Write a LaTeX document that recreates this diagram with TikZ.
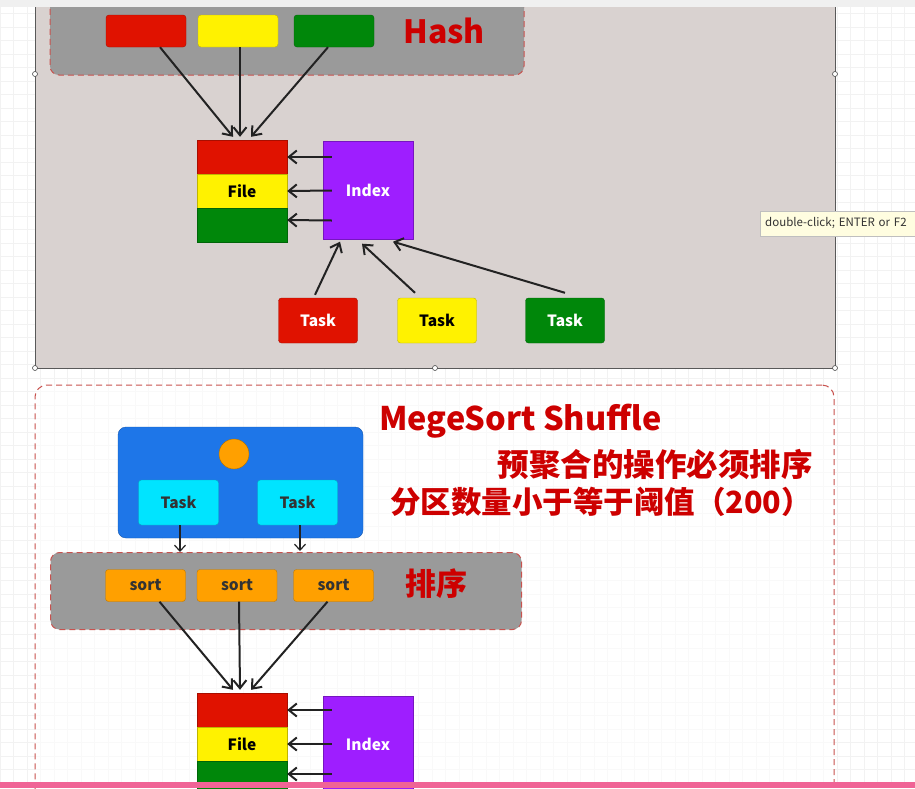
\documentclass[tikz,border=0pt]{standalone}
\usepackage{fontspec}
\setmainfont{Noto Sans CJK SC}
\usepackage{xcolor}
\usepackage{tikz}
\usetikzlibrary{arrows.meta,positioning}
\definecolor{cred}{RGB}{224,18,0}
\definecolor{cyel}{RGB}{255,242,0}
\definecolor{cgrn}{RGB}{0,135,10}
\definecolor{cpur}{RGB}{158,30,255}
\definecolor{cblue}{RGB}{30,118,232}
\definecolor{ccyan}{RGB}{0,228,255}
\definecolor{corg}{RGB}{255,160,0}
\definecolor{cpanel}{RGB}{217,210,208}
\definecolor{cgroup}{RGB}{154,154,154}
\definecolor{cdash}{RGB}{200,82,78}
\definecolor{ctitle}{RGB}{205,0,0}
\definecolor{cpink}{RGB}{240,100,150}
\definecolor{cline}{RGB}{34,34,34}
\tikzset{
  cell/.style={draw=#1!75!black, fill=#1, minimum width=90pt, minimum height=34pt, inner sep=0pt},
  chip/.style={draw=#1!75!black, fill=#1, rounded corners=3pt, minimum width=80pt, minimum height=32pt, inner sep=0pt},
  lbl/.style={font=\bfseries\fontsize{15.5}{15.5}\selectfont},
  group/.style={draw=cdash, dashed, dash pattern=on 6pt off 4pt, line width=1pt, fill=cgroup, rounded corners=9pt, inner sep=0pt},
  handle/.style={circle, draw=black!70, fill=white, minimum size=5pt, inner sep=0pt, line width=0.6pt},
  title/.style={text=ctitle, inner sep=0pt},
  flow/.style={every edge/.append style={-{Straight Barb[length=8pt,width=13pt]}, color=cline, line width=2pt}},
  drop/.style={every edge/.append style={-{Straight Barb[length=6pt,width=11pt]}, color=cline, line width=1.2pt}},
}
\begin{document}
\begin{tikzpicture}[x=1pt,y=-1pt]
	\useasboundingbox (0,0) rectangle (915,788);
	\clip (0,0) rectangle (915,788);
	\fill[white] (0,0) rectangle (915,788);
	\foreach \gx in {0,13.5,...,915} \draw[black!5] (\gx,0) -- (\gx,788);
	\foreach \gy in {0,13.5,...,788} \draw[black!5] (0,\gy) -- (915,\gy);
	%
	%  PANELS
	%
	\node[draw=black!65, fill=cpanel, minimum width=800pt, minimum height=373pt, line width=0.8pt] (upper) at (435,181.5) {};
	\node[group, minimum width=474pt, minimum height=85pt] (hashgrp) at (287,32.5) {};
	\node[draw=cdash, dashed, dash pattern=on 6pt off 4pt, line width=1pt, fill=white, fill opacity=0.6, rounded corners=12pt, minimum width=799pt, minimum height=415pt] (lower) at (434.5,592.5) {};
	\fill[black!6] (0,0) rectangle (915,7);
	%
	%  HASH SHUFFLE
	%
	\node[chip=cred] (hr) at (146,31) {};
	\node[chip=cyel] (hy) at (238,31) {};
	\node[chip=cgrn] (hg) at (334,31) {};
	\node[title, font=\bfseries\fontsize{32}{32}\selectfont] (hash) at (444,31) {Hash};
	\node[cell=cred] (fr) at (242,157) {};
	\node[cell=cyel, lbl] (fy) at (242,191) {File};
	\node[cell=cgrn] (fg) at (242,225) {};
	\node[draw=cpur!75!black, fill=cpur, minimum width=90pt, minimum height=98pt, text=white, lbl] (idx) at (368,190.5) {Index};
	\node[chip=cred, minimum width=79pt, minimum height=45pt, text=white, lbl] (tr) at (318,320.5) {Task};
	\node[chip=cyel, minimum width=79pt, minimum height=45pt, lbl] (ty) at (437,320.5) {Task};
	\node[chip=cgrn, minimum width=79pt, minimum height=45pt, text=white, lbl] (tg) at (565,320.5) {Task};
	%
	\path[flow]
	([xshift=14]hr.south) edge ([xshift=-9,yshift=3]fr.north)
	([xshift=2]hy.south) edge ([xshift=-2,yshift=3]fr.north)
	([xshift=-6]hg.south) edge ([xshift=9,yshift=3]fr.north)
	([xshift=9,yshift=33.5]idx.west) edge (fr.east)
	([xshift=9]idx.west) edge (fy.east)
	([xshift=9,yshift=-30]idx.west) edge ([yshift=5]fg.east)
	([xshift=-3,yshift=3]tr.north) edge ([xshift=-28,yshift=-2]idx.south)
	([xshift=-22,yshift=5]ty.north) edge ([xshift=-6,yshift=-4]idx.south)
	([yshift=5]tg.north) edge ([xshift=25,yshift=-2]idx.south);
	%
	%  SELECTION HANDLES
	%
	\node[handle] (h1) at (35,74) {};
	\node[handle] (h2) at (835,74) {};
	\node[handle] (h3) at (35,368) {};
	\node[handle] (h4) at (435,368) {};
	\node[handle] (h5) at (835,368) {};
	%
	%  MERGE SORT SHUFFLE
	%
	\node[title, anchor=west, font=\bfseries\fontsize{32.5}{32.5}\selectfont] (merge) at (379,421) {MegeSort Shuffle};
	\node[title, anchor=east, font=\bfseries\fontsize{31.5}{31.5}\selectfont] (pre) at (813,465) {预聚合的操作必须排序};
	\node[title, anchor=east, font=\bfseries\fontsize{30.5}{30.5}\selectfont] (part) at (812,502) {分区数量小于等于阈值（200）};
	\node[draw=cblue!75!black, fill=cblue, rounded corners=8pt, minimum width=245pt, minimum height=111pt] (exec) at (240.5,482.5) {};
	\node[circle, draw=corg!70!black, fill=corg, minimum size=30pt, inner sep=0pt] (core) at (234,454) {};
	\node[chip=ccyan, minimum width=80pt, minimum height=45pt, lbl, text=black!80] (bt1) at (178.5,502.5) {Task};
	\node[chip=ccyan, minimum width=80pt, minimum height=45pt, lbl, text=black!80] (bt2) at (297.5,502.5) {Task};
	\node[group, minimum width=471pt, minimum height=77pt] (sortgrp) at (286,591) {};
	\node[chip=corg, minimum height=32pt, lbl, text=black!80] (s1) at (145.5,585.5) {sort};
	\node[chip=corg, minimum height=32pt, lbl, text=black!80] (s2) at (237,585.5) {sort};
	\node[chip=corg, minimum height=32pt, lbl, text=black!80] (s3) at (333.5,585.5) {sort};
	\node[title, font=\bfseries\fontsize{31}{31}\selectfont] (order) at (436,584) {排序};
	\node[cell=cred] (fr2) at (242,710) {};
	\node[cell=cyel, lbl] (fy2) at (242,744) {File};
	\node[cell=cgrn] (fg2) at (242,778) {};
	\node[draw=cpur!75!black, fill=cpur, minimum width=90pt, minimum height=104pt, text=white, lbl] (idx2) at (368,748) {};
	\node[text=white, lbl] (idx2lbl) at (368,744) {Index};
	%
	\path[drop]
	([xshift=1.5]bt1.south) edge ([xshift=-106]sortgrp.north)
	([xshift=2.5]bt2.south) edge ([xshift=14,yshift=1]sortgrp.north);
	\path[flow]
	([xshift=14]s1.south) edge ([xshift=-9,yshift=3]fr2.north)
	([xshift=2]s2.south) edge ([xshift=-2,yshift=3]fr2.north)
	([xshift=-6]s3.south) edge ([xshift=9,yshift=3]fr2.north)
	([xshift=9,yshift=38]idx2.west) edge (fr2.east)
	([xshift=9,yshift=4]idx2.west) edge (fy2.east)
	([xshift=9,yshift=-26]idx2.west) edge ([yshift=4]fg2.east);
	%
	%  TOOLTIP AND PAGE EDGE
	%
	\node[anchor=west, draw=black!25, fill=yellow!12, minimum height=25pt, minimum width=170pt, inner xsep=5pt, text=black!80, font=\fontsize{11.5}{11.5}\selectfont, align=left, text width=165pt] (tip) at (760,223.5) {double-click; ENTER or F2};
	\fill[cpink] (0,782) rectangle (915,788);
\end{tikzpicture}
\end{document}
